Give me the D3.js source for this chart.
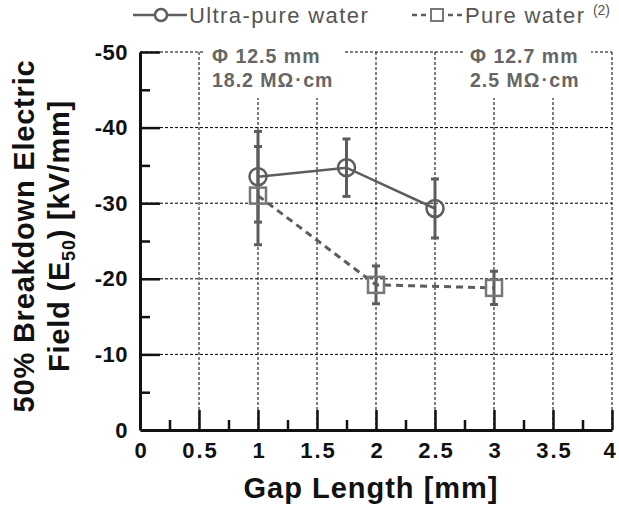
<!DOCTYPE html>
<html>
<head>
<meta charset="utf-8">
<script src="https://cdn.jsdelivr.net/npm/d3@7"></script>
<style>
  body { margin: 0; background: #fff; }
  svg { display: block; font-family: "Liberation Sans", Arial, sans-serif; }
</style>
</head>
<body>
<div id="chart"></div>
<script>
// data
var gapUltra = [1, 1.75, 2.5];
var e50Ultra = [-33.5, -34.7, -29.3];
var errUltra = [6.0, 3.8, 3.9];

var gapPure = [1, 2, 3];
var e50Pure = [-31.0, -19.2, -18.8];
var errPure = [6.5, 2.5, 2.2];

var xTicks = [0, 0.5, 1, 1.5, 2, 2.5, 3, 3.5, 4];
var xMinor = [0.25, 0.75, 1.25, 1.75, 2.25, 2.75, 3.25, 3.75];
var yTicks = [0, -10, -20, -30, -40, -50];
var yMinor = [-5, -15, -25, -35, -45];

var W = 619, H = 508;
var pLeft = 140, pRight = 612, pTop = 52, pBottom = 430;
var grey = "#5d5d5d";

var svg = d3.select("#chart").append("svg")
  .attr("width", W)
  .attr("height", H)

var x = d3.scaleLinear().domain([0, 4]).range([pLeft, pRight]);
var y = d3.scaleLinear().domain([0, -50]).range([pBottom, pTop]);

// grid
var grid = svg.append("g")
  .attr("stroke", "#000")
  .attr("stroke-width", 1)
  .attr("stroke-dasharray", "3,2");
grid.selectAll("line.v")
  .data(xTicks.slice(1))
  .enter().append("line")
  .attr("x1", function(d){return x(d)})
  .attr("x2", function(d){return x(d)})
  .attr("y1", pTop)
  .attr("y2", pBottom)
grid.selectAll("line.h")
  .data(yTicks.slice(1))
  .enter().append("line")
  .attr("x1", pLeft)
  .attr("x2", pRight)
  .attr("y1", function(d){return y(d)})
  .attr("y2", function(d){return y(d)})

// white boxes behind the notes
svg.append("rect").attr("x", 203).attr("y", 44).attr("width", 142).attr("height", 54).attr("fill", "#fff");
svg.append("rect").attr("x", 463).attr("y", 44).attr("width", 128).attr("height", 54).attr("fill", "#fff");

// axes
var plain = function(d){return String(d)};
var xAxis = svg.append("g")
  .attr("transform", "translate(0," + pBottom + ")")
  .call(d3.axisBottom(x).tickValues(xTicks).tickSize(-20).tickSizeOuter(0).tickPadding(12)
    .tickFormat(plain));
svg.append("g")
  .attr("transform", "translate(0," + pBottom + ")")
  .call(d3.axisBottom(x).tickValues(xMinor).tickSize(-10).tickSizeOuter(0).tickFormat(""))
  .call(function(g){g.select(".domain").remove()});

var yAxis = svg.append("g")
  .attr("transform", "translate(" + pLeft + ",0)")
  .call(d3.axisLeft(y).tickValues(yTicks).tickSize(-20).tickSizeOuter(0).tickPadding(12)
    .tickFormat(plain));
svg.append("g")
  .attr("transform", "translate(" + pLeft + ",0)")
  .call(d3.axisLeft(y).tickValues(yMinor).tickSize(-10).tickSizeOuter(0).tickFormat(""))
  .call(function(g){g.select(".domain").remove()});

svg.selectAll(".domain").attr("stroke", "#111").attr("stroke-width", 3);
svg.selectAll(".tick line").attr("stroke", "#111").attr("stroke-width", 2.5);
svg.selectAll(".tick text")
  .attr("fill", "#111")
  .attr("font-size", 22)
  .attr("font-weight", "bold")
  .attr("font-family", "'Liberation Sans', Arial, sans-serif");
xAxis.selectAll(".tick text").attr("letter-spacing", 2).attr("dx", function(d){return d === 4 ? -2 : 1});
yAxis.selectAll(".tick text").attr("letter-spacing", 0.5);
xAxis.selectAll(".tick line").filter(function(d){return d === 0}).remove();
yAxis.selectAll(".tick line").filter(function(d){return d === 0}).remove();

// axis titles
svg.append("text")
  .attr("x", (pLeft + pRight) / 2 - 5)
  .attr("y", 498)
  .attr("text-anchor", "middle")
  .attr("font-size", 29)
  .attr("letter-spacing", 1)
  .attr("font-weight", "bold")
  .attr("fill", "#111")
  .text("Gap Length [mm]")

var yt = svg.append("text")
  .attr("transform", "translate(34,236) rotate(-90)")
  .attr("text-anchor", "middle")
  .attr("font-size", 29)
  .attr("letter-spacing", 0.8)
  .attr("font-weight", "bold")
  .attr("fill", "#111")
yt.append("tspan").attr("x", 0).attr("y", 0).text("50% Breakdown Electric")
yt.append("tspan").attr("x", 0).attr("y", 35).text("Field (E")
yt.append("tspan").attr("font-size", 18).attr("dy", 6).text("50")
yt.append("tspan").attr("dy", -6).text(") [kV/mm]")

// error bars
function errorBars(gx, gy, ge) {
  var g = svg.append("g").attr("stroke", grey).attr("stroke-width", 3)
  var idx = d3.range(gx.length)
  g.selectAll("line.bar").data(idx).enter().append("line")
    .attr("x1", function(i){return x(gx[i])})
    .attr("x2", function(i){return x(gx[i])})
    .attr("y1", function(i){return y(gy[i] - ge[i])})
    .attr("y2", function(i){return y(gy[i] + ge[i])})
  g.selectAll("line.cap1").data(idx).enter().append("line")
    .attr("x1", function(i){return x(gx[i]) - 4})
    .attr("x2", function(i){return x(gx[i]) + 4})
    .attr("y1", function(i){return y(gy[i] - ge[i])})
    .attr("y2", function(i){return y(gy[i] - ge[i])})
  g.selectAll("line.cap2").data(idx).enter().append("line")
    .attr("x1", function(i){return x(gx[i]) - 4})
    .attr("x2", function(i){return x(gx[i]) + 4})
    .attr("y1", function(i){return y(gy[i] + ge[i])})
    .attr("y2", function(i){return y(gy[i] + ge[i])})
}
errorBars(gapUltra, e50Ultra, errUltra);
errorBars(gapPure, e50Pure, errPure);

// lines
var lineUltra = d3.line().x(function(i){return x(gapUltra[i])}).y(function(i){return y(e50Ultra[i])});
var linePure = d3.line().x(function(i){return x(gapPure[i])}).y(function(i){return y(e50Pure[i])});
svg.append("path").attr("d", lineUltra(d3.range(gapUltra.length)))
  .attr("fill", "none").attr("stroke", grey).attr("stroke-width", 2.5);
svg.append("path").attr("d", linePure(d3.range(gapPure.length)))
  .attr("fill", "none").attr("stroke", grey).attr("stroke-width", 3).attr("stroke-dasharray", "7,5");

// markers
svg.selectAll("circle.u").data(d3.range(gapUltra.length)).enter().append("circle")
  .attr("cx", function(i){return x(gapUltra[i])})
  .attr("cy", function(i){return y(e50Ultra[i])})
  .attr("r", 8.5)
  .attr("fill", "none").attr("stroke", grey).attr("stroke-width", 2.5)
svg.selectAll("rect.p").data(d3.range(gapPure.length)).enter().append("rect")
  .attr("x", function(i){return x(gapPure[i]) - 8})
  .attr("y", function(i){return y(e50Pure[i]) - 8})
  .attr("width", 16).attr("height", 16)
  .attr("fill", "none").attr("stroke", "#777").attr("stroke-width", 2.5)

// notes
function note(nx, l1, l2) {
  var t = svg.append("text")
    .attr("font-size", 19.5).attr("font-weight", "bold").attr("fill", "#666")
    .attr("letter-spacing", 1)
  t.append("tspan").attr("x", nx).attr("y", 63).text(l1)
  t.append("tspan").attr("x", nx).attr("y", 87).text(l2 + " MΩ")
  t.append("tspan").attr("font-size", 11).attr("dx", 2).attr("dy", -4).text("▪")
  t.append("tspan").attr("dx", 2).attr("dy", 4).text("cm")
}
note(212, "Φ 12.5 mm", "18.2");
note(470, "Φ 12.7 mm", "2.5");

// legend
var lg = svg.append("g")
lg.append("line").attr("x1", 133).attr("x2", 187).attr("y1", 15).attr("y2", 15)
  .attr("stroke", grey).attr("stroke-width", 2.5)
lg.append("circle").attr("cx", 161).attr("cy", 15).attr("r", 6)
  .attr("fill", "#fff").attr("stroke", grey).attr("stroke-width", 2.5)
lg.append("text").attr("x", 189).attr("y", 23).attr("font-size", 22).attr("fill", "#555")
  .attr("letter-spacing", 1.4)
  .text("Ultra-pure water")
lg.append("line").attr("x1", 412).attr("x2", 463).attr("y1", 15).attr("y2", 15)
  .attr("stroke", grey).attr("stroke-width", 2.5).attr("stroke-dasharray", "5,4")
lg.append("rect").attr("x", 431).attr("y", 9).attr("width", 12).attr("height", 12)
  .attr("fill", "#fff").attr("stroke", "#777").attr("stroke-width", 2)
var pt = lg.append("text").attr("x", 465).attr("y", 23).attr("font-size", 22).attr("fill", "#555")
  .attr("letter-spacing", 1.4)
pt.append("tspan").text("Pure water ")
pt.append("tspan").attr("font-size", 14).attr("letter-spacing", 0).attr("dy", -8).text("(2)")
</script>
</body>
</html>
